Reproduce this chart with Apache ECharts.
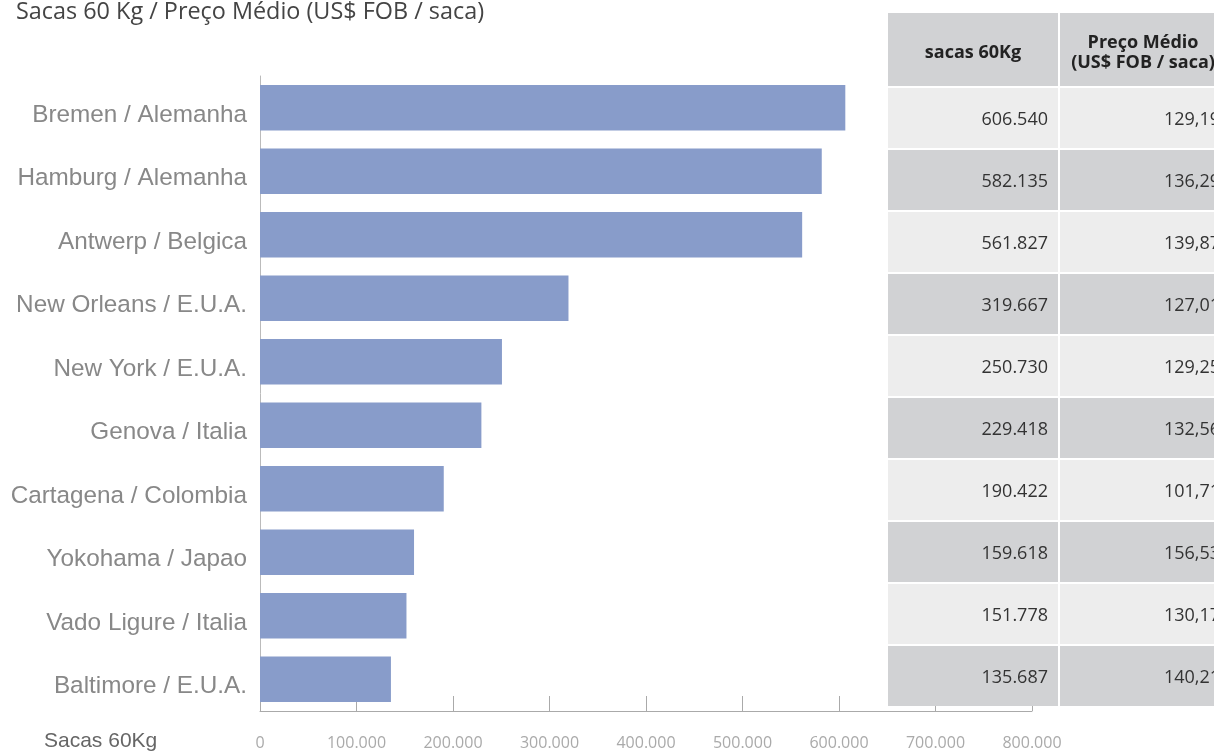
<!DOCTYPE html>
<html>
<head>
<meta charset="utf-8">
<script src="https://cdn.jsdelivr.net/npm/echarts@6/dist/echarts.min.js"></script>
<style>
html,body{margin:0;padding:0;background:#fff;}
#c{width:1214px;height:751px;}
</style>
</head>
<body>
<div id="c"></div>
<script>
var categories = ["Bremen / Alemanha","Hamburg / Alemanha","Antwerp / Belgica","New Orleans / E.U.A.","New York / E.U.A.","Genova / Italia","Cartagena / Colombia","Yokohama / Japao","Vado Ligure / Italia","Baltimore / E.U.A."];
var sacas = [606540,582135,561827,319667,250730,229418,190422,159618,151778,135687];
var precos = [129.19,136.29,139.87,127.01,129.25,132.56,101.71,156.53,130.17,140.21];
var xTicks = [0,100000,200000,300000,400000,500000,600000,700000,800000];
var tableHeaders = ["sacas 60Kg","Preço Médio\n(US$ FOB / saca)"];

function fmtInt(v){ return String(v).replace(/\B(?=(\d{3})+(?!\d))/g, '.'); }
function fmtDec(v){ return v.toFixed(2).replace('.', ','); }

var chart = echarts.init(document.getElementById('c'));

var graphics = [];
var c1x = 888, c1w = 170, c2x = 1060, c2w = 170;
var headTop = 13, headH = 73, rowTop = 88, rowH = 60, rowPitch = 62;
var dark = '#d1d2d4', light = '#ededed';
graphics.push({type:'rect', shape:{x:c1x,y:headTop,width:c1w,height:headH}, style:{fill:dark}, z:100});
graphics.push({type:'rect', shape:{x:c2x,y:headTop,width:c2w,height:headH}, style:{fill:dark}, z:100});
graphics.push({type:'text', x:c1x+c1w/2, y:headTop+headH/2+3, style:{text:tableHeaders[0], fontFamily:'Open Sans', fontWeight:'bold', fontSize:18, fill:'#222', align:'center', verticalAlign:'middle'}, z:101});
graphics.push({type:'text', x:c2x+c2w/2-2, y:headTop+headH/2+3, style:{text:tableHeaders[1], fontFamily:'Open Sans', fontWeight:'bold', fontSize:18, lineHeight:20, fill:'#222', align:'center', verticalAlign:'middle'}, z:101});
for (var i = 0; i < categories.length; i++) {
  var y = rowTop + rowPitch * i;
  var fill = (i % 2 === 0) ? light : dark;
  graphics.push({type:'rect', shape:{x:c1x,y:y,width:c1w,height:rowH}, style:{fill:fill}, z:100});
  graphics.push({type:'rect', shape:{x:c2x,y:y,width:c2w,height:rowH}, style:{fill:fill}, z:100});
  graphics.push({type:'text', x:c1x+c1w-10, y:y+rowH/2+2, style:{text:fmtInt(sacas[i]), fontFamily:'Open Sans', fontSize:18, fill:'#333', align:'right', verticalAlign:'middle'}, z:101});
  graphics.push({type:'text', x:c2x+c2w-10, y:y+rowH/2+2, style:{text:fmtDec(precos[i]), fontFamily:'Open Sans', fontSize:18, fill:'#333', align:'right', verticalAlign:'middle'}, z:101});
}
graphics.push({type:'text', x:16, y:12, style:{text:'Sacas 60 Kg / Preço Médio (US$ FOB / saca)', fontFamily:'Open Sans', fontSize:23.4, fill:'#444', align:'left', verticalAlign:'middle'}, z:50});
graphics.push({type:'text', x:44, y:741, style:{text:'Sacas 60Kg', fontFamily:'Liberation Sans', fontSize:21, fill:'#666', align:'left', verticalAlign:'middle'}, z:50});

chart.setOption({
  animation: false,
  grid: {left:260, right:182, top:76, bottom:38, containLabel:false},
  xAxis: {
    type:'value', min:0, max:800000, interval:100000,
    axisLine:{show:true, lineStyle:{color:'#aaa'}},
    axisTick:{show:true, inside:true, length:15, lineStyle:{color:'#aaa'}},
    splitLine:{show:false},
    axisLabel:{margin:24, fontFamily:'Open Sans', fontSize:16, color:'#aaa', formatter:function(v){return fmtInt(v);}}
  },
  yAxis: {
    type:'category', data:categories, inverse:true,
    axisLine:{show:true, lineStyle:{color:'#bbb'}},
    axisTick:{show:false},
    axisLabel:{margin:13, fontFamily:'Liberation Sans', fontSize:24.3, color:'#888', verticalAlign:'top', lineHeight:15}
  },
  series: [{
    type:'bar', data:sacas, barCategoryGap:'28%',
    itemStyle:{color:'#889cca'}
  }],
  graphic: graphics
});
</script>
</body>
</html>
